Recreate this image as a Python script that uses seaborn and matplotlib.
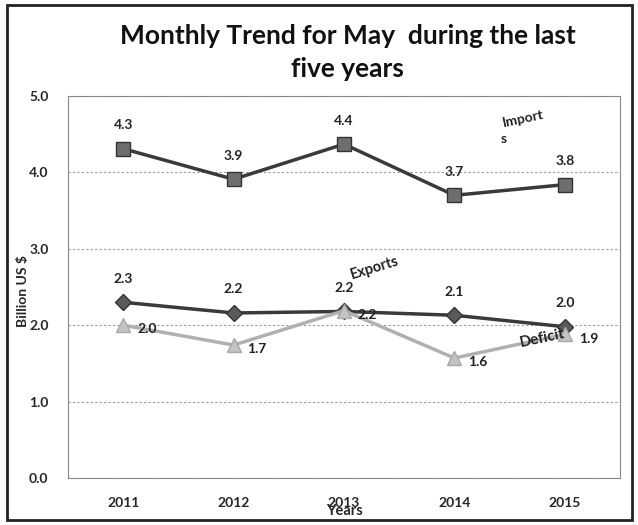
import pandas as pd
import numpy as np
import matplotlib.pyplot as plt
import seaborn as sns
from matplotlib.patches import Rectangle

years = ['2011', '2012', '2013', '2014', '2015']
imports = [4.31, 3.91, 4.37, 3.70, 3.84]
exports = [2.30, 2.16, 2.18, 2.13, 1.98]
deficit = [2.00, 1.74, 2.19, 1.57, 1.88]
y_ticks = [0.0, 1.0, 2.0, 3.0, 4.0, 5.0]

sns.set_theme(style='white')
plt.rcParams['font.family'] = ['Lato', 'DejaVu Sans']

df = pd.DataFrame({'Year': years * 3,
                   'Value': imports + exports + deficit,
                   'Series': ['Imports'] * 5 + ['Exports'] * 5 + ['Deficit'] * 5})

fig = plt.figure(figsize=(6.38, 5.25), dpi=100)
ax = fig.add_axes([68 / 638, 1 - 478 / 525, (620 - 68) / 638, (478 - 96) / 525])

styles = {
    'Imports': dict(color='#3a3a3a', marker='s', ms=10, mfc='#6e6e6e', mec='#333333'),
    'Exports': dict(color='#3a3a3a', marker='D', ms=8, mfc='#5a5a5a', mec='#333333'),
    'Deficit': dict(color='#b0b0b0', marker='^', ms=10, mfc='#c4c4c4', mec='#a8a8a8'),
}
for name, st in styles.items():
    sub = df[df['Series'] == name]
    sns.lineplot(data=sub, x='Year', y='Value', ax=ax, color=st['color'], lw=2.5,
                 marker=st['marker'], markersize=st['ms'], markerfacecolor=st['mfc'],
                 markeredgecolor=st['mec'], markeredgewidth=1, sort=False, legend=False)

lab = dict(fontsize=10, fontweight='bold', color='#222222')
for i in range(len(years)):
    ax.annotate(f'{imports[i]:.1f}', (i, imports[i]), xytext=(0, 17), textcoords='offset points', ha='center', va='center', **lab)
    ax.annotate(f'{exports[i]:.1f}', (i, exports[i]), xytext=(0, 17), textcoords='offset points', ha='center', va='center', **lab)
    ax.annotate(f'{deficit[i]:.1f}', (i, deficit[i]), xytext=(10, -3), textcoords='offset points', ha='left', va='center', **lab)

ax.text(3.62, 4.6, 'Import', fontsize=10, fontweight='bold', rotation=12, ha='center', color='#222222')
ax.text(3.45, 4.38, 's', fontsize=10, fontweight='bold', ha='center', color='#222222')
ax.text(2.28, 2.6, 'Exports', fontsize=10.5, fontweight='bold', rotation=17, ha='center', color='#222222')
ax.text(3.8, 1.72, 'Deficit', fontsize=11, fontweight='bold', rotation=12, ha='center', color='#222222')

ax.set_xlim(-0.5, 4.5)
ax.set_ylim(0, 5)
ax.set_yticks(y_ticks)
ax.set_yticklabels([f'{t:.1f}' for t in y_ticks], fontsize=10, fontweight='bold')
ax.tick_params(axis='x', labelsize=10, pad=8)
for t in ax.get_xticklabels():
    t.set_fontweight('bold')
ax.tick_params(axis='y', pad=8)
ax.grid(axis='y', color='#999999', ls=(0, (2, 2)), lw=0.8)
for s in ax.spines.values():
    s.set_color('#888888')
    s.set_linewidth(0.8)
ax.set_xlabel('Years', fontsize=10.5, fontweight='bold', labelpad=-4)
ax.set_ylabel('Billion US $', fontsize=10, fontweight='bold')
ax.yaxis.set_label_coords(-0.07, 0.49)

fig.text(0.545, 0.9, 'Monthly Trend for May  during the last\nfive years', ha='center', va='center',
         fontsize=19, fontweight='bold', linespacing=1.45, color='#111111')
fig.patches.append(Rectangle((7 / 638, 5 / 525), 625 / 638, 515 / 525, transform=fig.transFigure,
                             fill=False, ec='#222222', lw=2))

plt.savefig('out.png', dpi=100)
